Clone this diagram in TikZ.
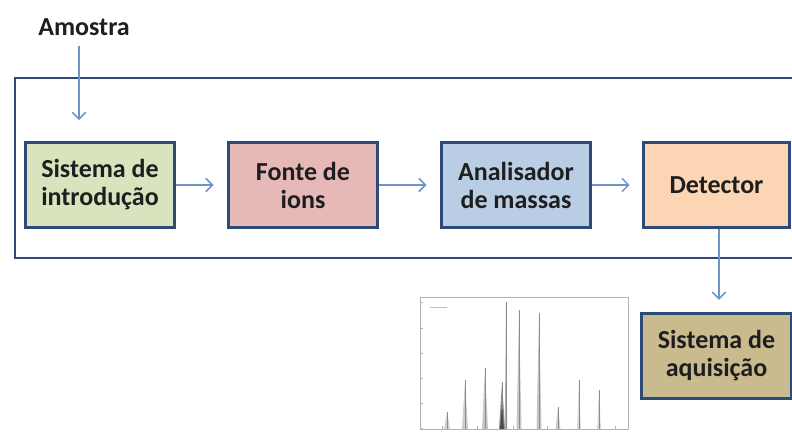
\documentclass[tikz,border=0pt]{standalone}
\usepackage{fontspec}
\setmainfont{Carlito}
\usetikzlibrary{
  arrows.meta,
  positioning
}
\definecolor{frameblue}{HTML}{2E4A78}
\definecolor{arrowblue}{HTML}{6F95C8}
\definecolor{inkdark}{HTML}{1E1E1E}
\definecolor{introfill}{HTML}{D7E4BD}
\definecolor{ionfill}{HTML}{E6B9B8}
\definecolor{massfill}{HTML}{B9CDE5}
\definecolor{detfill}{HTML}{FCD5B5}
\definecolor{acqfill}{HTML}{C9BB8E}
\tikzset{
  % For the stage boxes of the spectrometer.
  stage/.style={
    draw=frameblue,
    line width=2.2pt,
    minimum width=112pt,
    minimum height=64pt,
    inner sep=2pt,
    align=center,
    text=inkdark,
    font=\fontsize{19.5}{21}\selectfont\bfseries},
%
  % For the thin arrows from stage to stage.
  flow/.style={
    draw=arrowblue,
    line width=1.1pt,
    -{Straight Barb[length=5pt,width=10pt]}},
%
  % For the frame round the instrument.
  frame/.style={
    draw=frameblue,
    line width=2pt},
%
  % For the plain label above the frame.
  label text/.style={
    text=inkdark,
    font=\fontsize{19.5}{21}\selectfont\bfseries},
%
  % For the lines of the small spectrum.
  plot line/.style={
    draw=black!30,
    line width=0.4pt}
}

\begin{document}
\begin{tikzpicture}[x=0.75pt, y=-0.75pt]
  \useasboundingbox (0,0) rectangle (792,443);

  % The instrument frame runs off the right edge.
  \draw[frame] (795,78) -- (15,78) -- (15,258) -- (795,258);

  % Stages, left to right.
  \node[stage, fill=introfill] (intro) at (100,185) {Sistema de\\introdução};
  \node[stage, fill=ionfill] (source) at (303,185) {Fonte de\\ions};
  \node[stage, fill=massfill] (analyser) at (516,185) {Analisador\\de massas};
  \node[stage, fill=detfill, minimum width=110pt] (detector) at (716.5,185) {Detector};
  \node[stage, fill=acqfill, below=62pt of detector] (acquisition) {Sistema de\\aquisição};

  % Sample inlet.
  \node[label text] (sample) at (84,27) {Amostra};
  \coordinate (inlet) at (79,120);
  \draw[flow] (sample.south -| inlet) ++(0,6) -- (inlet);

  \draw[flow, shorten >=10pt] (intro) -- (source);
  \draw[flow, shorten >=10pt] (source) -- (analyser);
  \draw[flow, shorten >=9pt] (analyser) -- (detector);
  \draw[flow, shorten >=9pt] (detector.south -| 719,0) -- (acquisition.north -| 719,0);

  % Small mass spectrum beside the acquisition stage.
  \draw[plot line] (420,297) rectangle (628,429);
  \foreach \tx in {442, 477, 513, 547, 580, 615}
    {\draw[plot line] (\tx,429) -- (\tx,426);}
  \foreach \ty in {302, 328, 353, 378, 403, 428}
    {\draw[plot line] (420,\ty) -- (423,\ty);}
  \draw[black!25, line width=0.6pt] (430,307) -- (447,307);
  \foreach \px/\top/\half/\shade in {
      447/412/3/18, 465/380/3/20, 485/368/3/22, 502/382/3/45,
      506/302/1.2/30, 519/310/2.5/22, 539/313/2.5/22, 558/407/2.5/18,
      579/380/2/15, 599/390/2/15}
    {\fill[black!\shade] (\px-\half,429) -- (\px,\top) -- (\px+\half,429) -- cycle;
     \draw[black!45, line width=0.3pt] (\px,429) -- (\px,\top);}
  \fill[black!70] (500,429) -- (502,405) -- (504,429) -- cycle;
\end{tikzpicture}
\end{document}
